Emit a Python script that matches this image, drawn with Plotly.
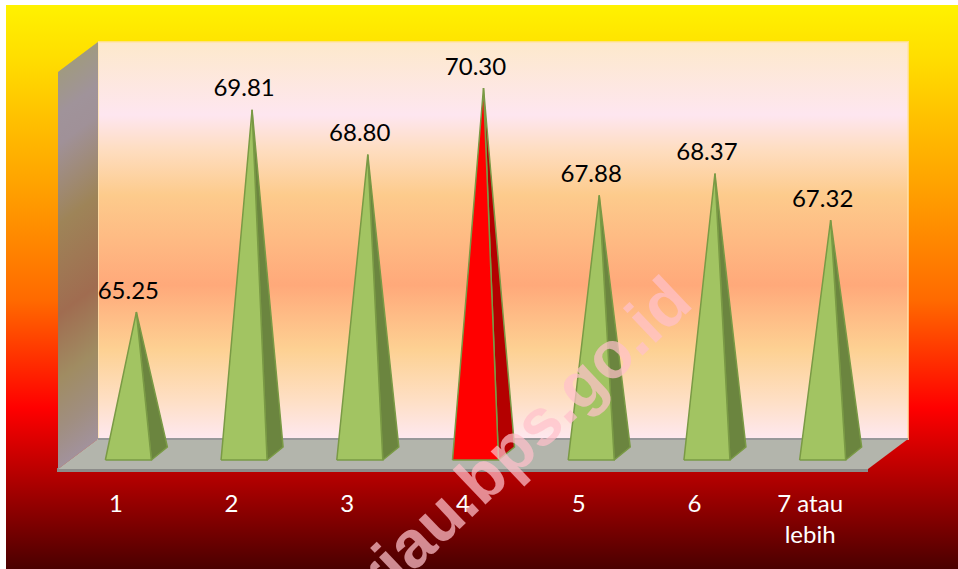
import plotly.graph_objects as go

# ---- chart data ----
categories = ["1", "2", "3", "4", "5", "6", "7 atau<br>lebih"]
values = [65.25, 69.81, 68.80, 70.30, 67.88, 68.37, 67.32]
value_labels = ["65.25", "69.81", "68.80", "70.30", "67.88", "68.37", "67.32"]
highlight = "4"

# ---- page geometry (pixels) ----
W, H = 958, 569
X0, X1 = 58, 868          # front floor edge
DX = 40                   # depth, x
FLOOR_FRONT, FLOOR_BACK = 469, 439
WALL_TOP = 42
PX_PER_UNIT = 44.36
BASE_VALUE = 62
BASE_PX = 456.2           # pixel of BASE_VALUE at mid depth

BAND_PX = (X1 - X0) / 7

def dx(px):
    return px / BAND_PX

def dy(px):
    return px / PX_PER_UNIT

FONT = "Lato, Carlito, Calibri, sans-serif"

def gradient(stops, start, stop, shift=0):
    scale = [[(p - start) / (stop - start), c] for p, c in stops]
    return dict(type="vertical", colorscale=scale, start=start + shift, stop=stop + shift)

page_stops = [(5, "#FFF200"), (60, "#FFDD00"), (120, "#FFC000"), (190, "#FFA000"),
              (300, "#FF6A00"), (408, "#FF0000"), (469, "#BC0000"), (569, "#4A0000")]
wall_stops = [(42, "#FDE9CB"), (115, "#FEE6F0"), (150, "#FEDDC0"), (195, "#FDCB8C"),
              (285, "#FFA97A"), (350, "#FDD193"), (400, "#FEDFC4"), (439, "#FEE8F0")]
side_stops = [(42, "#A09A80"), (85, "#A0939A"), (115, "#A09198"), (195, "#9E8458"),
              (285, "#A06C50"), (350, "#A08C62"), (400, "#A08E80"), (439, "#A2929C")]

fig = go.Figure()

def deco(xs, ys, **kw):
    fig.add_trace(go.Scatter(x=xs, y=ys, xaxis="x", yaxis="y", mode="lines", fill="toself",
                             hoverinfo="skip", showlegend=False, cliponaxis=False, **kw))

# page panel
deco([6, W, W, 6, 6], [5, 5, H, H, 5], line=dict(width=0), fillgradient=gradient(page_stops, 5, H))
# back wall
deco([X0 + DX, X1 + DX, X1 + DX, X0 + DX, X0 + DX],
     [WALL_TOP, WALL_TOP, FLOOR_BACK, FLOOR_BACK, WALL_TOP],
     line=dict(width=2, color="rgba(255,225,170,0.75)"), fillgradient=gradient(wall_stops, WALL_TOP, FLOOR_BACK))
# left wall: thin strips so that the shading follows the slant of the wall
for k in range(DX):
    f0, f1 = k / DX, min((k + 1.6) / DX, 1)
    shift = (FLOOR_FRONT - FLOOR_BACK) * (1 - (k + 0.5) / DX)
    top0 = WALL_TOP + (FLOOR_FRONT - FLOOR_BACK) * (1 - f0)
    top1 = WALL_TOP + (FLOOR_FRONT - FLOOR_BACK) * (1 - f1)
    bot0 = FLOOR_BACK + (FLOOR_FRONT - FLOOR_BACK) * (1 - f0)
    bot1 = FLOOR_BACK + (FLOOR_FRONT - FLOOR_BACK) * (1 - f1)
    deco([X0 + DX * f0, X0 + DX * f1, X0 + DX * f1, X0 + DX * f0, X0 + DX * f0],
         [top0, top1, bot1, bot0, top0], line=dict(width=0),
         fillgradient=gradient(side_stops, WALL_TOP, FLOOR_BACK, shift))
# floor front lip
deco([X0 - 1, X1, X1, X0 - 1, X0 - 1],
     [FLOOR_FRONT - 1, FLOOR_FRONT - 1, FLOOR_FRONT + 3, FLOOR_FRONT + 3, FLOOR_FRONT - 1],
     line=dict(width=0), fillcolor="#8C8C8A")
# floor
deco([X0, X0 + DX, X1 + DX, X1, X0],
     [FLOOR_FRONT, FLOOR_BACK, FLOOR_BACK, FLOOR_FRONT, FLOOR_FRONT],
     line=dict(width=0), fillcolor="#B3B5AC")
# back edge of floor
fig.add_trace(go.Scatter(x=[X0 + DX, X1 + DX], y=[FLOOR_BACK, FLOOR_BACK], xaxis="x", yaxis="y", mode="lines",
                         line=dict(width=2, color="#98989A"), hoverinfo="skip", showlegend=False))

# pyramids, computed from the values on the data axes
positions = list(range(1, len(categories) + 1))
LEFT, RIGHT, TIP = dx(-10.5), dx(35.5), dx(20.5)
BACK_R = dx(51.5)
FRONT_Y, BACK_Y = BASE_VALUE - dy(460 - BASE_PX), BASE_VALUE + dy(BASE_PX - 447)

for pos, cat, val in zip(positions, categories, values):
    is_hi = cat == highlight
    front = "#FF0000" if is_hi else "#A2C462"
    side = "#B40000" if is_hi else "#6B853F"
    edge = "#7A9A45"
    # side face
    fig.add_trace(go.Scatter(
        x=[pos + RIGHT, pos + BACK_R, pos + TIP, pos + RIGHT],
        y=[FRONT_Y, BACK_Y, val, FRONT_Y],
        xaxis="x2", yaxis="y2", mode="lines", fill="toself", fillcolor=side,
        line=dict(color=edge, width=1.5), hoverinfo="skip", showlegend=False, cliponaxis=False))
    # front face
    fig.add_trace(go.Scatter(
        x=[pos + LEFT, pos + RIGHT, pos + TIP, pos + LEFT],
        y=[FRONT_Y, FRONT_Y, val, FRONT_Y],
        xaxis="x2", yaxis="y2", mode="lines", fill="toself", fillcolor=front,
        line=dict(color=edge, width=1.5), hoverinfo="skip", showlegend=False, cliponaxis=False))

# value labels
fig.add_trace(go.Scatter(
    x=[p + dx(12.5) for p in positions], y=[v + dy(7.5) for v in values], text=value_labels,
    xaxis="x2", yaxis="y2", mode="text", textposition="top center",
    textfont=dict(family=FONT, size=24, color="#000000"),
    hoverinfo="skip", showlegend=False, cliponaxis=False))

fig.update_layout(
    width=W, height=H, margin=dict(l=0, r=0, t=0, b=0, pad=0),
    paper_bgcolor="#FFFFFF", plot_bgcolor="rgba(0,0,0,0)", hovermode=False, showlegend=False,
    xaxis=dict(domain=[0, 1], range=[0, W], visible=False, fixedrange=True),
    yaxis=dict(domain=[0, 1], range=[H, 0], visible=False, fixedrange=True),
    xaxis2=dict(domain=[X0 / W, X1 / W], range=[0.5, 7.5], anchor="y2", tickmode="array",
                tickvals=positions, ticktext=categories, ticks="outside", ticklen=13,
                tickcolor="rgba(0,0,0,0)", showgrid=False, zeroline=False, showline=False,
                tickfont=dict(family=FONT, size=24, color="#FFFFFF"), fixedrange=True, tickangle=0),
    yaxis2=dict(domain=[1 - FLOOR_FRONT / H, 1 - WALL_TOP / H],
                range=[BASE_VALUE - dy(FLOOR_FRONT - BASE_PX), BASE_VALUE + dy(BASE_PX - WALL_TOP)],
                anchor="x2", visible=False, fixedrange=True),
    annotations=[dict(text="<b>riau.bps.go.id</b>", xref="paper", yref="paper",
                      x=522 / W, y=1 - 438 / H, xanchor="center", yanchor="middle",
                      textangle=-43.5, showarrow=False,
                      font=dict(family="Liberation Sans, Arial, sans-serif", size=66, color="rgba(255,192,203,0.72)"))],
)

fig.write_html("out.html", config={"displayModeBar": False},
               post_script="document.body.style.margin='0';document.documentElement.style.overflow='hidden';")
